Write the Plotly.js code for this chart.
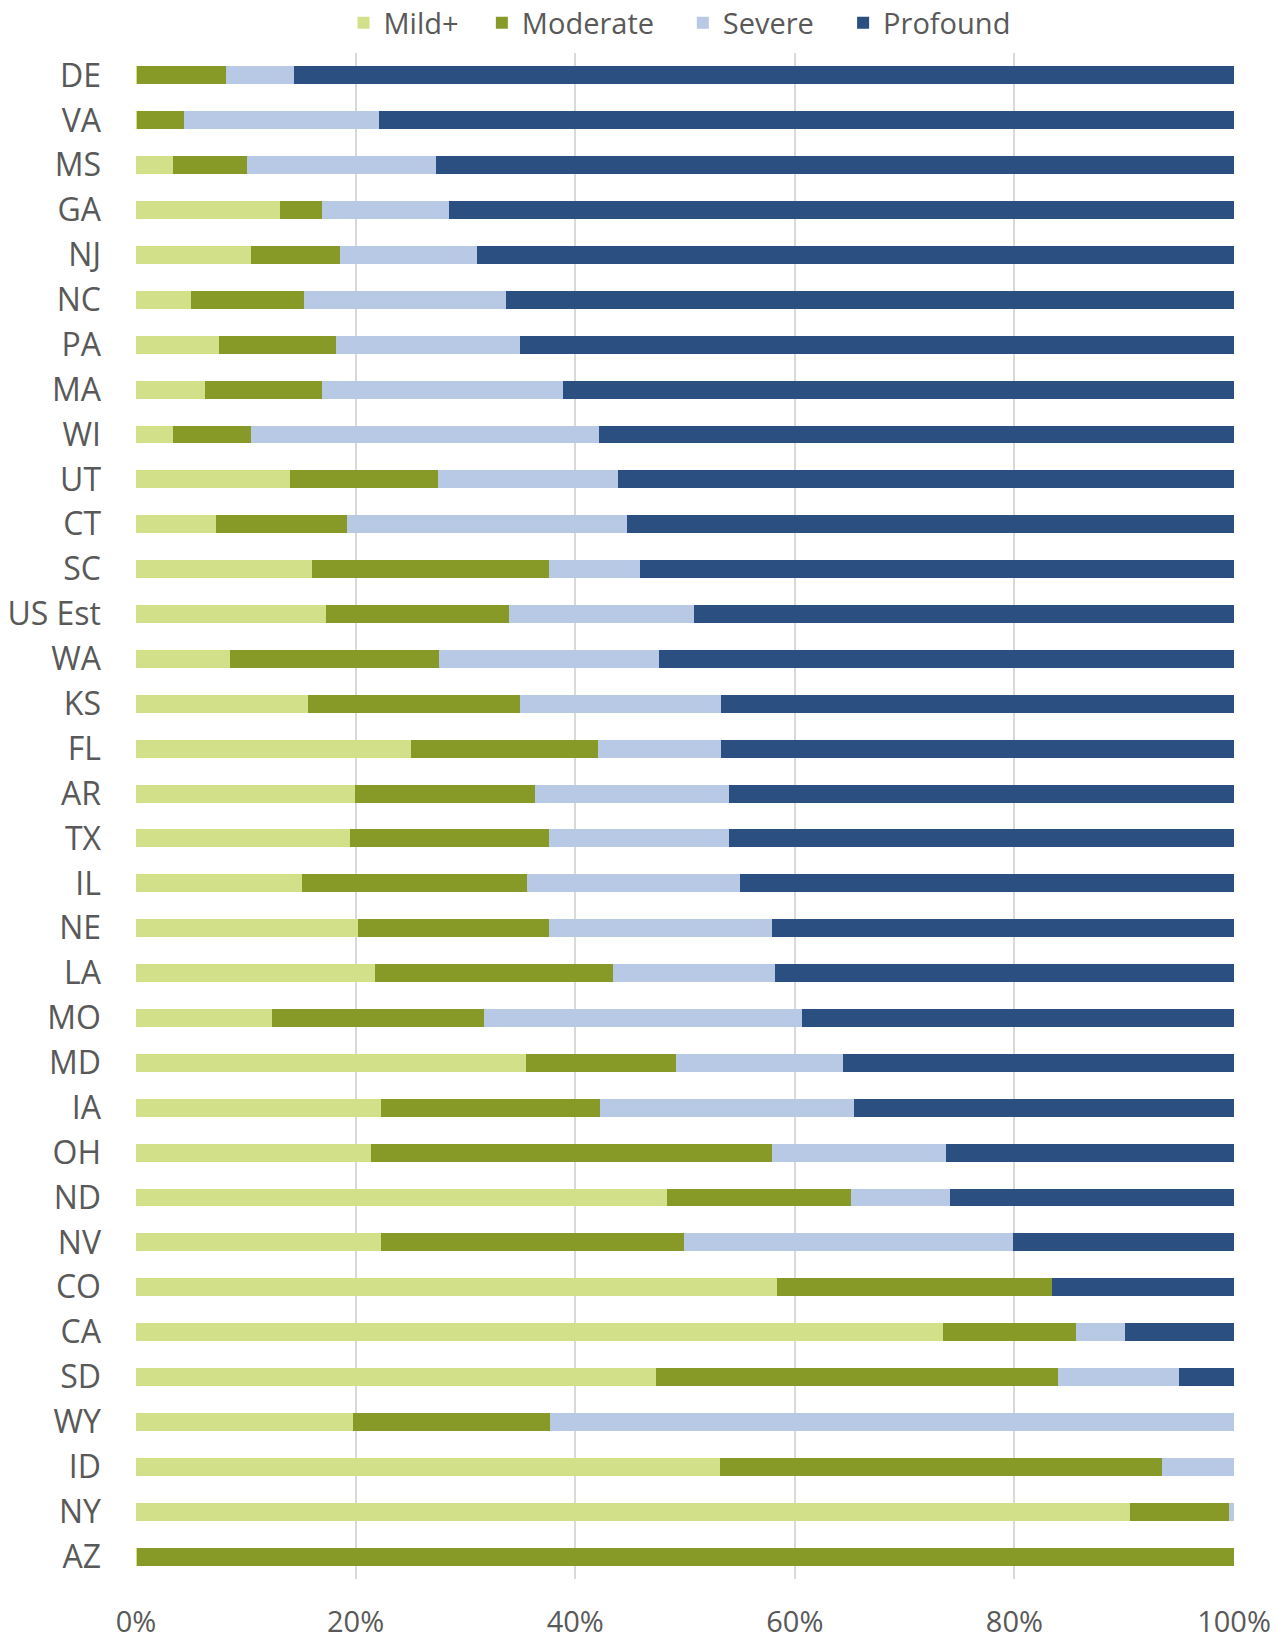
<!DOCTYPE html>
<html>
<head>
<meta charset="utf-8">
<script src="https://cdn.plot.ly/plotly-3.0.1.min.js"></script>
<style>html,body{margin:0;padding:0;background:#fff;}#chart{width:1278px;height:1640px;}</style>
</head>
<body>
<div id="chart"></div>
<script>
const states = ["DE","VA","MS","GA","NJ","NC","PA","MA","WI","UT","CT","SC","US Est","WA","KS","FL","AR","TX","IL","NE","LA","MO","MD","IA","OH","ND","NV","CO","CA","SD","WY","ID","NY","AZ"];
const mild     = [0.1, 0.1, 3.4, 13.1, 10.5, 5.0, 7.6, 6.3, 3.4, 14.0, 7.3, 16.0, 17.3, 8.6, 15.7, 25.0, 19.9, 19.5, 15.1, 20.2, 21.8, 12.4, 35.5, 22.3, 21.4, 48.4, 22.3, 58.4, 73.5, 47.4, 19.8, 53.2, 90.5, 0.1];
const moderate = [8.1, 4.3, 6.7, 3.8, 8.1, 10.3, 10.6, 10.6, 7.1, 13.5, 11.9, 21.6, 16.7, 19.0, 19.3, 17.1, 16.4, 18.1, 20.5, 17.4, 21.6, 19.3, 13.7, 20.0, 36.5, 16.7, 27.6, 25.0, 12.1, 36.6, 17.9, 40.2, 9.0, 99.9];
const severe   = [6.2, 17.7, 17.2, 11.6, 12.5, 18.4, 16.8, 22.0, 31.7, 16.4, 25.5, 8.3, 16.8, 20.0, 18.3, 11.2, 17.7, 16.4, 19.4, 20.3, 14.8, 29.0, 15.2, 23.1, 15.9, 9.0, 30.0, 0, 4.5, 11.0, 62.3, 6.6, 0.5, 0];
const profound = [85.6, 77.9, 72.7, 71.5, 68.9, 66.3, 65.0, 61.1, 57.8, 56.1, 55.3, 54.1, 49.2, 52.4, 46.7, 46.7, 46.0, 46.0, 45.0, 42.1, 41.8, 39.3, 35.6, 34.6, 26.2, 25.9, 20.1, 16.6, 9.9, 5.0, 0, 0, 0, 0];
const seriesNames = ["Mild+","Moderate","Severe","Profound"];
const seriesColors = ["#d2e08a","#879a28","#b8c9e6","#2a4f80"];
const xTicks = [0,20,40,60,80,100];

const legendIds = ["legend","legend2","legend3","legend4"];
const legendX = [0.189, 0.315, 0.498, 0.644];

const allSeries = [mild, moderate, severe, profound];
const traces = allSeries.map((vals, i) => ({
  type: "bar",
  orientation: "h",
  name: seriesNames[i],
  y: states,
  x: vals,
  legend: legendIds[i],
  marker: {color: seriesColors[i], line: {width: 0}},
  hoverinfo: "skip"
}));

const font = {family: "Open Sans, sans-serif", size: 29, color: "#595959"};
const yfont = {family: "Open Sans, sans-serif", size: 32, color: "#595959"};
const layout = {
  width: 1278, height: 1640,
  barmode: "stack",
  bargap: 0.6,
  margin: {l: 136, r: 44, t: 53, b: 61, autoexpand: false},
  paper_bgcolor: "#fff", plot_bgcolor: "#fff",
  font: font,
  showlegend: true,
  xaxis: {
    range: [0, 100], tickvals: xTicks, ticktext: xTicks.map(v => v + "%"),
    showgrid: true, gridcolor: "#d9d9d9", gridwidth: 2, zeroline: false,
    showline: false, ticks: "", ticklabelstandoff: 23, tickfont: font, fixedrange: true
  },
  yaxis: {
    autorange: "reversed", type: "category",
    showgrid: false, zeroline: false, showline: false, ticks: "",
    ticklabelstandoff: 34, tickfont: yfont, fixedrange: true
  }
};
legendIds.forEach((id, i) => {
  layout[id] = {orientation: "h", x: legendX[i], xanchor: "left", y: 1.0197, yanchor: "middle",
                font: font, bgcolor: "rgba(0,0,0,0)"};
});
Plotly.newPlot("chart", traces, layout, {displayModeBar: false, staticPlot: true});
</script>
</body>
</html>
